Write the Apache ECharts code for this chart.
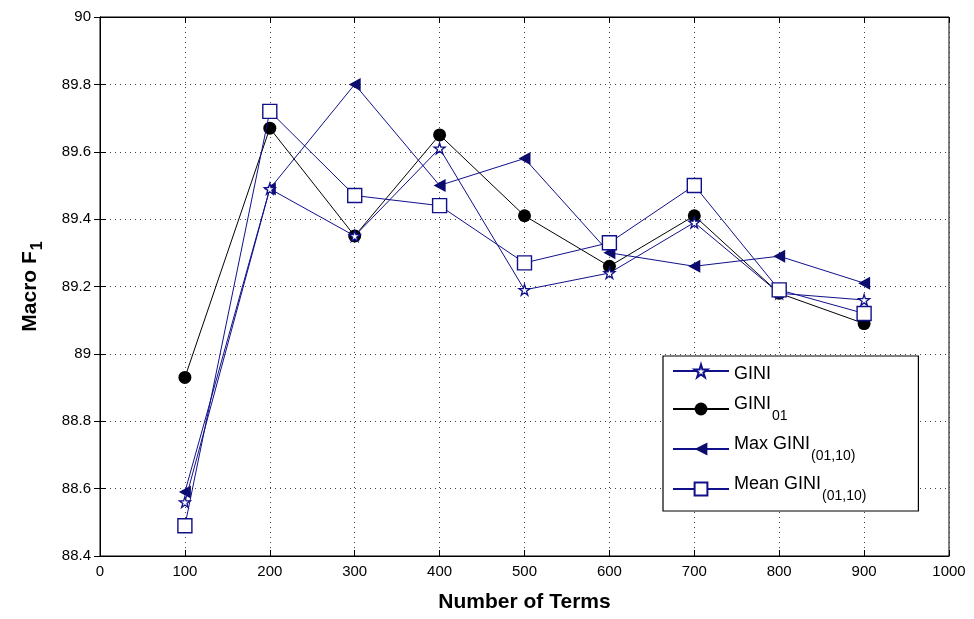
<!DOCTYPE html>
<html>
<head>
<meta charset="utf-8">
<script src="https://cdn.jsdelivr.net/npm/echarts@6/dist/echarts.min.js"></script>
<style>html,body{margin:0;padding:0;background:#fff}#c{width:974px;height:619px}</style>
</head>
<body>
<div id="c"></div>
<script>
const terms = [100, 200, 300, 400, 500, 600, 700, 800, 900];
const gini = [88.56, 89.49, 89.35, 89.61, 89.19, 89.24, 89.39, 89.18, 89.16];
const gini01 = [88.93, 89.67, 89.35, 89.65, 89.41, 89.26, 89.41, 89.18, 89.09];
const maxGini = [88.59, 89.49, 89.80, 89.50, 89.58, 89.30, 89.26, 89.29, 89.21];
const meanGini = [88.49, 89.72, 89.47, 89.44, 89.27, 89.33, 89.50, 89.19, 89.12];
const seriesNames = ['GINI', 'GINI01', 'Max GINI(01,10)', 'Mean GINI(01,10)'];
const xTicks = {min: 0, max: 1000, interval: 100};
const yTicks = {min: 88.4, max: 90, interval: 0.2};

const NAVY = '#10108a';
const starPath = 'path://M50,0 L61,35 L98,35 L68,57 L79,91 L50,70 L21,91 L32,57 L2,35 L39,35 Z';
const triLeft = 'path://M0,50 L100,0 L100,100 Z';
const font = 'Liberation Sans, Arial, sans-serif';

function pair(xs, ys) { return xs.map((x, i) => [x, ys[i]]); }

const chart = echarts.init(document.getElementById('c'), null, {renderer: 'canvas'});
const tickStyle = {show: true, inside: true, length: 6, lineStyle: {color: '#000', width: 1}};
const splitStyle = {show: true, lineStyle: {color: '#444', type: [1, 4], width: 1}};

chart.setOption({
  animation: false,
  backgroundColor: '#fff',
  grid: {left: 100, right: 25, top: 17, bottom: 63, show: true, borderColor: '#000', borderWidth: 1, containLabel: false},
  legend: {
    orient: 'vertical',
    left: 663, top: 356,
    backgroundColor: '#fff',
    borderColor: '#000', borderWidth: 1.2,
    padding: [3, 52, 8, 9],
    itemWidth: 56, itemHeight: 16,
    itemGap: 12,
    data: seriesNames,
    textStyle: {
      fontFamily: font, fontSize: 18, color: '#000',
      rich: {
        g: {fontFamily: font, fontSize: 18, color: '#000', lineHeight: 28, verticalAlign: 'middle', padding: [6, 0, 0, 0]},
        m: {fontFamily: font, fontSize: 18, color: '#000', lineHeight: 28, verticalAlign: 'top'},
        s: {fontFamily: font, fontSize: 14, color: '#000', lineHeight: 28, verticalAlign: 'bottom', padding: [14, 0, 0, 1]}
      }
    },
    formatter: function (name) {
      if (name === 'GINI') return '{g|GINI}';
      if (name === 'GINI01') return '{m|GINI}{s|01}';
      if (name === 'Max GINI(01,10)') return '{m|Max GINI}{s|(01,10)}';
      return '{m|Mean GINI}{s|(01,10)}';
    }
  },
  xAxis: [{
    type: 'value', min: xTicks.min, max: xTicks.max, interval: xTicks.interval,
    name: 'Number of Terms', nameLocation: 'middle', nameGap: 36,
    nameTextStyle: {fontFamily: font, fontSize: 21, fontWeight: 'bold', color: '#000'},
    axisLine: {show: true, lineStyle: {color: '#000', width: 1}},
    axisTick: tickStyle,
    axisLabel: {fontFamily: font, fontSize: 15, color: '#000', margin: 8, formatter: v => String(v)},
    splitLine: splitStyle
  }, {
    type: 'value', position: 'top', min: xTicks.min, max: xTicks.max, interval: xTicks.interval,
    axisLine: {show: true, lineStyle: {color: '#000'}}, axisTick: tickStyle,
    axisLabel: {show: false}, splitLine: {show: false}
  }],
  yAxis: [{
    type: 'value', min: yTicks.min, max: yTicks.max, interval: yTicks.interval,
    name: '{m|Macro F}{s|1}', nameLocation: 'middle', nameGap: 54,
    nameTextStyle: {
      fontFamily: font, fontSize: 21, fontWeight: 'bold', color: '#000',
      rich: {
        m: {fontFamily: font, fontSize: 21, fontWeight: 'bold', color: '#000', lineHeight: 26, verticalAlign: 'top'},
        s: {fontFamily: font, fontSize: 16, fontWeight: 'bold', color: '#000', lineHeight: 26, verticalAlign: 'bottom', padding: [10, 0, 0, 1]}
      }
    },
    axisLine: {show: true, lineStyle: {color: '#000', width: 1}},
    axisTick: tickStyle,
    axisLabel: {fontFamily: font, fontSize: 15, color: '#000', margin: 9,
      formatter: v => String(+v.toFixed(1))},
    splitLine: splitStyle
  }, {
    type: 'value', position: 'right', min: yTicks.min, max: yTicks.max, interval: yTicks.interval,
    axisLine: {show: true, lineStyle: {color: '#000'}}, axisTick: tickStyle,
    axisLabel: {show: false}, splitLine: {show: false}
  }],
  series: [
    {
      name: seriesNames[0], type: 'line', data: pair(terms, gini), z: 4,
      symbol: starPath, symbolSize: 11,
      lineStyle: {color: NAVY, width: 1},
      itemStyle: {color: '#fff', borderColor: NAVY, borderWidth: 1.3}
    },
    {
      name: seriesNames[1], type: 'line', data: pair(terms, gini01), z: 3,
      symbol: 'circle', symbolSize: 13,
      lineStyle: {color: '#000', width: 1},
      itemStyle: {color: '#000', borderColor: '#000', borderWidth: 0}
    },
    {
      name: seriesNames[2], type: 'line', data: pair(terms, maxGini), z: 3,
      symbol: triLeft, symbolSize: [12, 13],
      lineStyle: {color: NAVY, width: 1},
      itemStyle: {color: '#0c0c6e', borderColor: '#0c0c6e', borderWidth: 0}
    },
    {
      name: seriesNames[3], type: 'line', data: pair(terms, meanGini), z: 5,
      symbol: 'rect', symbolSize: 14,
      lineStyle: {color: NAVY, width: 1},
      itemStyle: {color: '#fff', borderColor: NAVY, borderWidth: 1.4}
    }
  ]
});
</script>
</body>
</html>
